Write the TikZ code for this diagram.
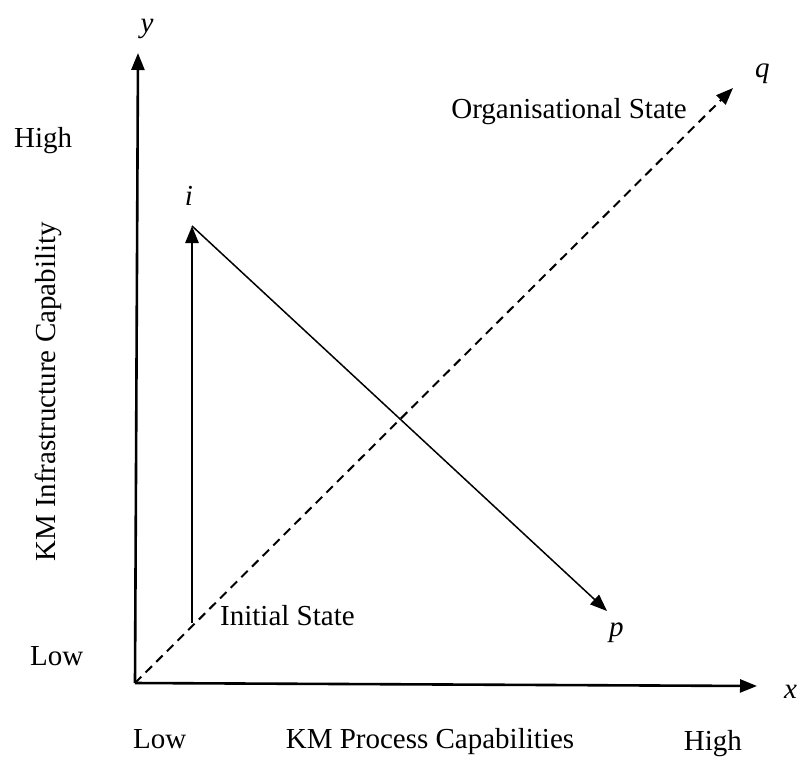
\documentclass[tikz,border=0pt]{standalone}
\usepackage{fontspec}
\setmainfont{Liberation Serif}
\usetikzlibrary{arrows.meta}
\begin{document}
\begin{tikzpicture}[x=1pt,y=-1pt,
  txt/.style={font=\fontsize{29}{35}\selectfont, inner sep=0pt},
  var/.style={font=\fontsize{29}{35}\selectfont\itshape, inner sep=0pt},
  axis/.style={line width=2.6pt, -{Triangle[length=17pt,width=13pt]}},
  thick arrow/.style={line width=2.8pt, -{Triangle[length=17pt,width=13pt]}},
  thin arrow/.style={line width=1.5pt, -{Triangle[length=17pt,width=13pt]}},
  dash line/.style={line width=2pt, dash pattern=on 9pt off 6pt, -{Triangle[length=17pt,width=13pt]}}]
\useasboundingbox (0,0) rectangle (799,756);
\coordinate (O) at (135,683);
\coordinate (Ytip) at (138,53);
\coordinate (Xtip) at (757,686);
\coordinate (A) at (192,623);
\coordinate (I) at (192,226);
\coordinate (P) at (607,611);
\coordinate (Q) at (733,88);
\draw[dash line] (O) -- (Q);
\draw[axis] (O) -- (Ytip);
\draw[axis] (O) -- (Xtip);
\draw[thick arrow] (A) -- (I);
\draw[thin arrow] (I) -- (P);
\node[var, anchor=base] (ylab) at (147,32) {y};
\node[var, anchor=base west] (xlab) at (784,698) {x};
\node[var, anchor=base] (ilab) at (189,205) {i};
\node[var, anchor=base west] (plab) at (609,636) {p};
\node[var, anchor=base west] (qlab) at (755,77) {q};
\node[txt, anchor=base east] (org) at (687,118) {Organisational State};
\node[txt, anchor=base west] (init) at (220,625) {Initial State};
\node[txt, anchor=base west] (hiy) at (14,147) {High};
\node[txt, anchor=base west] (loy) at (30,665) {Low};
\node[txt, anchor=base west] (lox) at (133,748) {Low};
\node[txt, anchor=base east] (hix) at (742,750) {High};
\node[txt, anchor=base] (xtitle) at (430,748) {KM Process Capabilities};
\node[txt, rotate=90] (ytitle) at (48,392) {KM Infrastructure Capability};
\end{tikzpicture}
\end{document}
